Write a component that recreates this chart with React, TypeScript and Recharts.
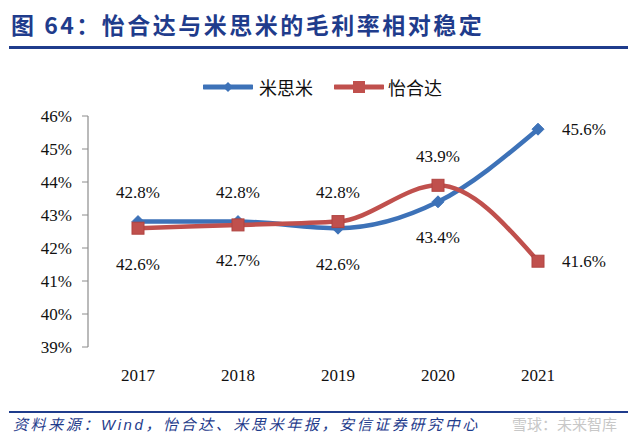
import React from 'react';
import { LineChart, Line, XAxis, YAxis } from 'recharts';

const years = ['2017', '2018', '2019', '2020', '2021'];
const misumiValues = [42.8, 42.8, 42.6, 43.4, 45.6];
const yihedaValues = [42.6, 42.7, 42.8, 43.9, 41.6];
const misumiLabelPos = ['top', 'top', 'bottom', 'bottom', 'right'];
const yihedaLabelPos = ['bottom', 'bottom', 'top', 'top', 'right'];
const yTicks = [39, 40, 41, 42, 43, 44, 45, 46];

const BLUE = '#3D72B8';
const RED = '#C0504D';
const NAVY = '#1F3C8C';
const AXIS = '#8C8C8C';
const SERIF = '"Liberation Serif", "DejaVu Serif", serif';
const CJK = '"Noto Sans CJK SC", "Noto Sans", sans-serif';

const data = years.map((y, i) => ({ i, year: y, misumi: misumiValues[i], yiheda: yihedaValues[i] }));
const centerTicks = years.map((_, i) => i);
const edgeTicks = [...years.map((_, i) => i - 0.5), years.length - 0.5];

const Diamond = (props: any) => {
  const { cx, cy } = props;
  if (cx == null || cy == null) return null;
  const s = 6;
  return <path d={`M${cx},${cy - s}L${cx + s},${cy}L${cx},${cy + s}L${cx - s},${cy}Z`} fill={BLUE} stroke={BLUE} />;
};

const Square = (props: any) => {
  const { cx, cy } = props;
  if (cx == null || cy == null) return null;
  const s = 6;
  return <rect x={cx - s} y={cy - s} width={2 * s} height={2 * s} fill={RED} stroke="#B04340" strokeWidth={1} />;
};

const makeLabel = (positions: string[]) => (props: any) => {
  const { x, y, index, value } = props;
  if (x == null || y == null) return null;
  const pos = positions[index];
  let tx = x;
  let ty = y;
  let anchor: 'middle' | 'start' = 'middle';
  if (pos === 'top') ty = y - 29;
  else if (pos === 'bottom') ty = y + 36;
  else {
    tx = x + 24;
    anchor = 'start';
  }
  return (
    <text x={tx} y={ty} textAnchor={anchor} dominantBaseline="central" fontFamily={SERIF} fontSize={17} fill="#111">
      {`${Number(value).toFixed(1)}%`}
    </text>
  );
};

export default function App() {
  return (
    <div style={{ position: 'absolute', left: 0, top: 0, width: 640, height: 434, background: '#fff', overflow: 'hidden' }}>
      <div
        style={{
          position: 'absolute', left: 11, top: 7, fontFamily: CJK, fontWeight: 700, fontSize: 23,
          letterSpacing: 2.5, color: NAVY, whiteSpace: 'nowrap', lineHeight: '34px',
        }}
      >
        图 64：怡合达与米思米的毛利率相对稳定
      </div>
      <div style={{ position: 'absolute', left: 9, top: 46, width: 619, height: 2.5, background: NAVY }} />

      <div style={{ position: 'absolute', left: 203, top: 75, height: 24, display: 'flex', alignItems: 'center', fontFamily: CJK, fontSize: 18, color: '#111' }}>
        <svg width={50} height={14} style={{ marginRight: 6 }}>
          <line x1={1} y1={7} x2={49} y2={7} stroke={BLUE} strokeWidth={5} strokeLinecap="round" />
          <path d="M25,2L30,7L25,12L20,7Z" fill={BLUE} />
        </svg>
        <span>米思米</span>
        <svg width={50} height={14} style={{ marginLeft: 21, marginRight: 4 }}>
          <line x1={1} y1={7} x2={49} y2={7} stroke={RED} strokeWidth={5} strokeLinecap="round" />
          <rect x={19} y={1} width={12} height={12} fill={RED} />
        </svg>
        <span>怡合达</span>
      </div>

      <div style={{ position: 'absolute', left: 0, top: 0 }}>
        <LineChart width={640} height={434} data={data} margin={{ top: 116, right: 52, bottom: 57, left: 28 }}>
          <XAxis
            xAxisId="edge" dataKey="i" type="number" domain={[-0.5, years.length - 0.5]} ticks={edgeTicks}
            tick={false} tickSize={6} tickLine={{ stroke: AXIS }} axisLine={{ stroke: AXIS, strokeWidth: 1.2 }} height={0}
            allowDecimals
          />
          <XAxis
            xAxisId="lab" dataKey="i" type="number" domain={[-0.5, years.length - 0.5]} ticks={centerTicks}
            tickFormatter={(v: number) => years[v]} axisLine={false} tickLine={false} tickSize={0} tickMargin={22}
            height={30} tick={{ fontFamily: SERIF, fontSize: 17, fill: '#111' }}
          />
          <YAxis
            type="number" domain={[39, 46]} ticks={yTicks} tickFormatter={(v: number) => `${v}%`} width={60}
            tickSize={6} tickMargin={10} axisLine={{ stroke: AXIS, strokeWidth: 1.2 }} tickLine={{ stroke: AXIS }}
            tick={{ fontFamily: SERIF, fontSize: 17, fill: '#111' }} interval={0}
          />
          <Line
            xAxisId="lab" dataKey="misumi" type="monotone" stroke={BLUE} strokeWidth={4.5} dot={<Diamond />}
            activeDot={false} isAnimationActive={false} label={makeLabel(misumiLabelPos)}
          />
          <Line
            xAxisId="lab" dataKey="yiheda" type="monotone" stroke={RED} strokeWidth={4.5} dot={<Square />}
            activeDot={false} isAnimationActive={false} label={makeLabel(yihedaLabelPos)}
          />
        </LineChart>
      </div>

      <div style={{ position: 'absolute', left: 9, top: 410.5, width: 619, height: 2.5, background: NAVY }} />
      <div
        style={{
          position: 'absolute', left: 13, top: 413, fontFamily: CJK, fontSize: 15, fontStyle: 'italic',
          letterSpacing: 2.6, color: NAVY, whiteSpace: 'nowrap', lineHeight: '21px',
        }}
      >
        资料来源：<span style={{ fontFamily: '"Liberation Sans", sans-serif' }}>Wind</span>，怡合达、米思米年报，安信证券研究中心
      </div>
      <div
        style={{
          position: 'absolute', left: 512, top: 413, fontFamily: CJK, fontSize: 15, color: '#C8C8C8',
          whiteSpace: 'nowrap', lineHeight: '21px',
        }}
      >
        雪球：未来智库
      </div>
    </div>
  );
}
